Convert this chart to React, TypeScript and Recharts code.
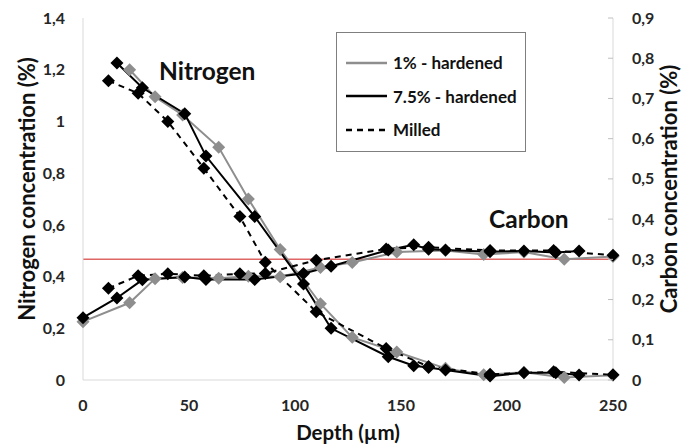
import React from 'react'
import {
  LineChart,
  Line,
  XAxis,
  YAxis,
  ReferenceLine,
} from 'recharts'

// depth (µm) / concentration (%)
const nHard1Depth = [22, 34, 47, 64, 78, 93, 112, 127, 148, 171, 189, 208, 227, 250]
const nHard1Val = [1.2, 1.095, 1.025, 0.9, 0.7, 0.505, 0.295, 0.165, 0.108, 0.045, 0.02, 0.03, 0.01, 0.018]

const nHard75Depth = [16, 28, 48, 58, 81, 104, 117, 144, 156, 163, 171, 192, 208, 223, 234]
const nHard75Val = [1.226, 1.13, 1.03, 0.866, 0.632, 0.371, 0.2, 0.09, 0.055, 0.048, 0.039, 0.015, 0.028, 0.028, 0.019]

const nMilledDepth = [12, 26, 40, 57, 74, 86, 110, 143, 163, 192, 222, 250]
const nMilledVal = [1.157, 1.109, 1.0, 0.819, 0.632, 0.455, 0.264, 0.122, 0.052, 0.022, 0.032, 0.02]

const cHard1Depth = [0, 22, 34, 47, 64, 78, 93, 112, 127, 148, 171, 189, 208, 227, 250]
const cHard1Val = [0.145, 0.192, 0.252, 0.255, 0.253, 0.258, 0.257, 0.28, 0.292, 0.318, 0.322, 0.312, 0.318, 0.3, 0.307]

const cHard75Depth = [0, 16, 28, 48, 58, 81, 104, 117, 144, 156, 163, 171, 192, 208, 223, 234]
const cHard75Val = [0.155, 0.204, 0.249, 0.256, 0.25, 0.25, 0.265, 0.283, 0.323, 0.336, 0.325, 0.323, 0.319, 0.321, 0.317, 0.321]

const cMilledDepth = [12, 26, 40, 57, 74, 86, 110, 143, 163, 192, 222, 250]
const cMilledVal = [0.228, 0.259, 0.264, 0.259, 0.264, 0.265, 0.298, 0.326, 0.33, 0.322, 0.322, 0.31]

const xTicks = [0, 50, 100, 150, 200, 250]
const nTicks = [0, 0.2, 0.4, 0.6, 0.8, 1, 1.2, 1.4]
const cTicks = [0, 0.1, 0.2, 0.3, 0.4, 0.5, 0.6, 0.7, 0.8, 0.9]
const nitrogenLimit = 0.467

const legendItems = [
  { label: '1% - hardened', color: '#8e8e8e', dash: undefined },
  { label: '7.5% - hardened', color: '#000', dash: undefined },
  { label: 'Milled', color: '#000', dash: '6 5' },
]

const GRAY = '#8e8e8e'
const FONT = 'Lato, "Open Sans", sans-serif'
const TICK_FONT = 16

const zip = (xs: number[], ys: number[]) => xs.map((x, i) => ({ x, y: ys[i] }))
const fmt = (v: number) => String(v).replace('.', ',')

function diamond(color: string) {
  return (props: any) => {
    const { cx, cy, index } = props
    if (cx == null || cy == null) return <g key={index} />
    const r = 6.5
    return (
      <path
        key={index}
        d={`M${cx},${cy - r}L${cx + r},${cy}L${cx},${cy + r}L${cx - r},${cy}Z`}
        fill={color}
        stroke="none"
      />
    )
  }
}

function RightTick(props: any) {
  const { x, y, payload } = props
  // tick mark sits just inside the axis line
  const axisX = x - 19
  return (
    <g>
      <line x1={axisX - 5} x2={axisX} y1={y} y2={y} stroke="#bfbfbf" />
      <text x={x} y={y} dy={5.5} textAnchor="start" fontSize={TICK_FONT} fontWeight={700} fill="#262626" fontFamily={FONT}>
        {fmt(payload.value)}
      </text>
    </g>
  )
}

function LegendBox() {
  return (
    <div
      style={{
        position: 'absolute',
        left: 336,
        top: 32,
        width: 190,
        height: 120,
        border: '1px solid #7f7f7f',
        background: '#fff',
        boxSizing: 'border-box',
        paddingTop: 13,
        fontFamily: FONT,
      }}
    >
      {legendItems.map((it) => (
        <div key={it.label} style={{ display: 'flex', alignItems: 'center', height: 33.5 }}>
          <svg width={47} height={10} style={{ marginLeft: 9 }}>
            <line x1={0} x2={41} y1={5} y2={5} stroke={it.color} strokeWidth={2.5} strokeDasharray={it.dash} />
          </svg>
          <span style={{ fontSize: 17, fontWeight: 700, color: '#111' }}>{it.label}</span>
        </div>
      ))}
    </div>
  )
}

const titleStyle = {
  position: 'absolute' as const,
  fontFamily: FONT,
  fontWeight: 700,
  fontSize: 24.5,
  color: '#111',
  lineHeight: '28px',
}

const tickStyle = { fontSize: TICK_FONT, fontWeight: 700, fill: '#262626', fontFamily: FONT }
const axisTitleStyle = { textAnchor: 'middle' as const, fontSize: 22, fontWeight: 700, fill: '#111', fontFamily: FONT }

export default function App() {
  const seriesStyle = { type: 'linear' as const, isAnimationActive: false, strokeWidth: 2 }
  return (
    <div style={{ position: 'absolute', left: 0, top: 0, width: 699, height: 445, background: '#fff' }}>
      <LineChart width={699} height={445} margin={{ top: 18, right: 0, bottom: 0, left: 0 }}>
        <XAxis
          dataKey="x"
          type="number"
          domain={[0, 250]}
          ticks={xTicks}
          allowDuplicatedCategory={false}
          height={65}
          axisLine={{ stroke: '#d9d9d9' }}
          tickLine={false}
          tickMargin={14}
          tick={tickStyle}
          label={{ value: 'Depth (µm)', position: 'insideBottom', offset: 5, style: { ...axisTitleStyle, fontSize: 20.5 } }}
        />
        <YAxis
          yAxisId="n"
          domain={[0, 1.4]}
          ticks={nTicks}
          width={83}
          axisLine={{ stroke: '#d9d9d9' }}
          tickLine={false}
          tickMargin={12}
          tickFormatter={fmt}
          tick={tickStyle}
          label={{ value: 'Nitrogen concentration (%)', angle: -90, position: 'insideLeft', offset: 27, dy: -10, style: axisTitleStyle }}
        />
        <YAxis
          yAxisId="c"
          orientation="right"
          domain={[0, 0.9]}
          ticks={cTicks}
          width={86}
          axisLine={{ stroke: '#d9d9d9' }}
          tickLine={false}
          tickSize={5}
          tickMargin={14}
          tick={<RightTick />}
          label={{ value: 'Carbon concentration (%)', angle: -90, position: 'insideRight', offset: 30, dy: -10, style: axisTitleStyle }}
        />
        <ReferenceLine yAxisId="n" y={nitrogenLimit} stroke="#e06666" strokeWidth={1.5} />

        <Line {...seriesStyle} yAxisId="n" data={zip(nHard1Depth, nHard1Val)} dataKey="y" stroke={GRAY} dot={diamond(GRAY)} name="n1" />
        <Line {...seriesStyle} yAxisId="c" data={zip(cHard1Depth, cHard1Val)} dataKey="y" stroke={GRAY} dot={diamond(GRAY)} name="c1" />
        <Line {...seriesStyle} yAxisId="n" data={zip(nMilledDepth, nMilledVal)} dataKey="y" stroke="#000" strokeDasharray="6 5" dot={diamond('#000')} name="nm" />
        <Line {...seriesStyle} yAxisId="c" data={zip(cMilledDepth, cMilledVal)} dataKey="y" stroke="#000" strokeDasharray="6 5" dot={diamond('#000')} name="cm" />
        <Line {...seriesStyle} yAxisId="n" data={zip(nHard75Depth, nHard75Val)} dataKey="y" stroke="#000" dot={diamond('#000')} name="n75" />
        <Line {...seriesStyle} yAxisId="c" data={zip(cHard75Depth, cHard75Val)} dataKey="y" stroke="#000" dot={diamond('#000')} name="c75" />
      </LineChart>
      <div style={{ ...titleStyle, left: 159, top: 57 }}>Nitrogen</div>
      <div style={{ ...titleStyle, left: 489, top: 205 }}>Carbon</div>
      <LegendBox />
    </div>
  )
}
